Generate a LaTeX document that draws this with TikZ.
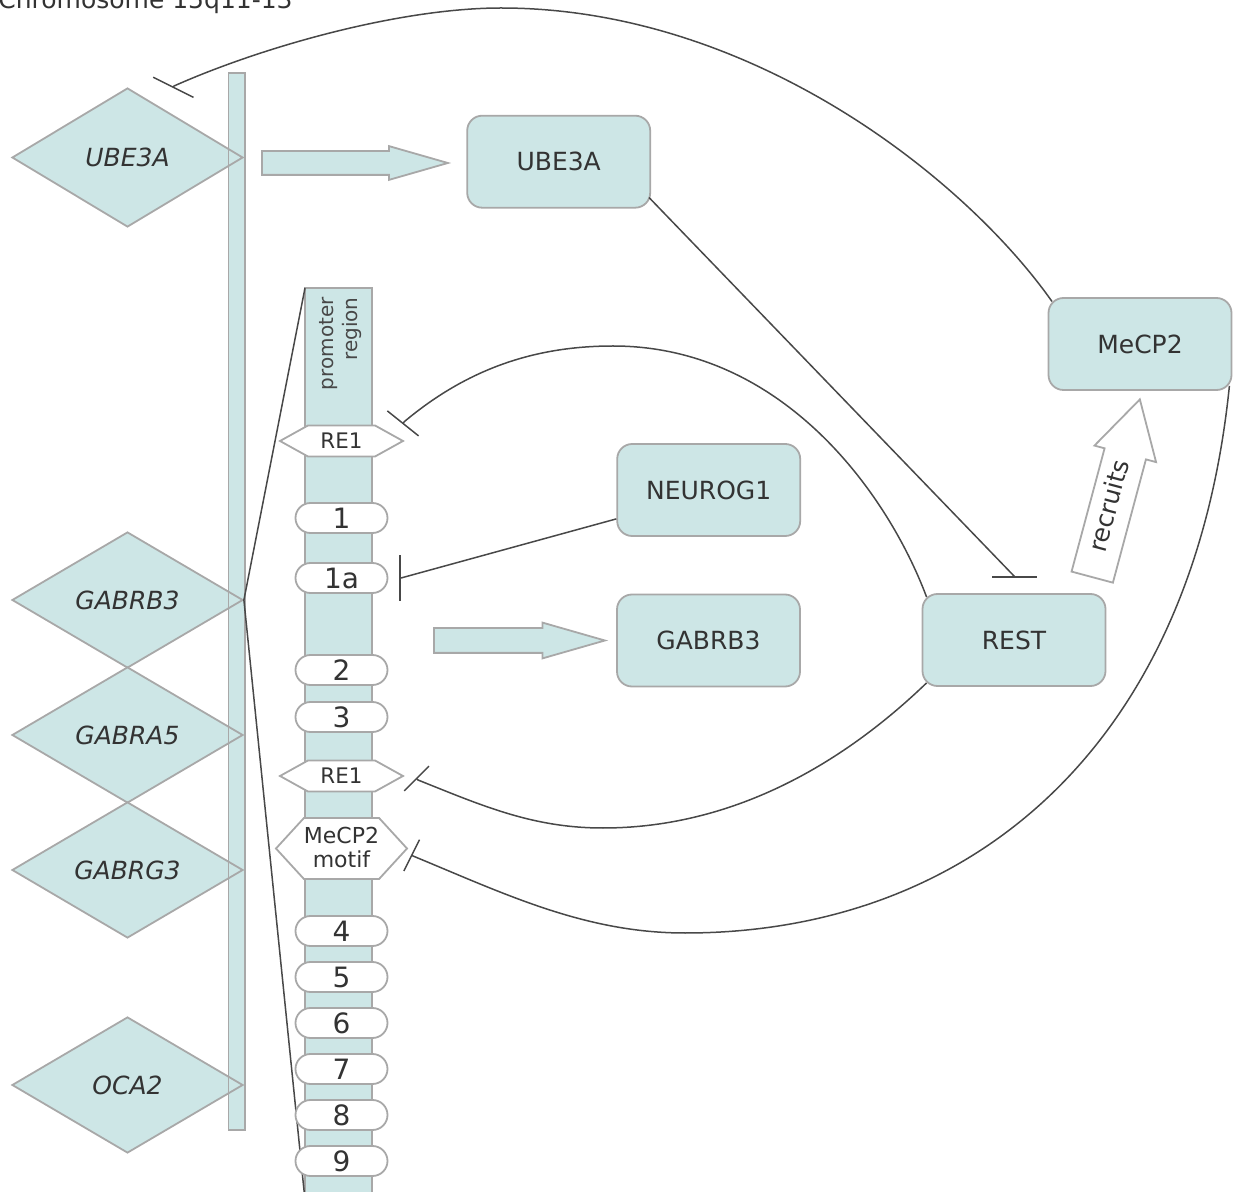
\documentclass[tikz,border=0pt]{standalone}
\usepackage{fontspec}
\setmainfont{DejaVu Sans}
\usepackage{xcolor}
\usepackage{tikz}
\usetikzlibrary{arrows.meta,calc,shapes.geometric,shapes.symbols,shapes.arrows}
\definecolor{ink}{HTML}{333333}
\definecolor{wire}{HTML}{484848}
\definecolor{band}{HTML}{CDE6E6}
\definecolor{rim}{HTML}{A8A8A8}
\newcommand{\boxfont}{\fontsize{12.5}{15}\selectfont}
\newcommand{\genefont}{\itshape\fontsize{12.5}{15}\selectfont}
\newcommand{\exonfont}{\fontsize{14}{16}\selectfont}
\newcommand{\sitefont}{\fontsize{10.7}{11.5}\selectfont}

\tikzset{
  gene/.style={diamond, draw=rim, fill=band, line width=0.9pt, minimum width=115.5pt,
    minimum height=68pt, inner sep=0pt, font=\genefont, text=ink},
  protein/.style={rectangle, rounded corners=7.5pt, draw=rim, fill=band, line width=0.9pt,
    minimum width=91.5pt, minimum height=46pt, font=\boxfont, text=ink},
  exon/.style={rectangle, rounded corners=7.5pt, draw=rim, fill=white, line width=0.9pt,
    minimum width=46pt, minimum height=15pt, inner sep=0pt, font=\exonfont, text=ink},
  site/.style={signal, signal to=east and west, draw=rim, fill=white, line width=0.9pt,
    minimum width=61.5pt, inner sep=0pt, font=\sitefont, text=ink, align=center},
  strand/.style={rectangle, draw=rim, fill=band, line width=0.9pt, inner sep=0pt, outer sep=0pt},
  fatarrow/.style={single arrow, draw=rim, fill=band, line width=0.9pt,
    single arrow tip angle=32, inner xsep=0pt, anchor=tail},
  blocks/.style={draw=wire, line width=0.75pt, -{Bar[width=#1]}},
  blocks/.default=22.5pt,
}

\begin{document}
\begin{tikzpicture}[x=0.5pt, y=-0.5pt]
  \useasboundingbox (0,0) rectangle (1233,1192);

  \node[anchor=base west, font=\boxfont, text=ink, inner sep=0pt] (title) at (-2,9) {Chromosome 15q11-13};

  % chromosome and genes
  \node[strand, minimum width=8.25pt, minimum height=528.5pt] (chrom) at (236.75,601.5) {};
  \node[gene, minimum height=69.5pt] (ube3ag) at (127.5,157.5) {UBE3A};
  \node[gene] (gabrb3g) at (127.5,600) {GABRB3};
  \node[gene] (gabra5g) at (127.5,735) {GABRA5};
  \node[gene] (gabrg3g) at (127.5,870) {GABRG3};
  \node[gene] (oca2g) at (127.5,1085) {OCA2};
  \draw[rim, line width=0.9pt] (chrom.north west) rectangle (chrom.south east);

  % zoom on the GABRB3 promoter
  \node[strand, minimum width=33.5pt, minimum height=456pt] (promoter) at (338.5,744) {};
  \draw[wire, line width=0.75pt] (gabrb3g.east) -- (promoter.north west);
  \draw[wire, line width=0.75pt] (gabrb3g.east) -- (promoter.south west);
  \node[rotate=90, anchor=east, align=right, inner sep=0pt, text=ink!90,
        font=\fontsize{10}{12}\selectfont] (promtext) at (341,297) {promoter\\region};

  \node[site, minimum height=15.5pt, signal pointer angle=58] (re1a) at (341.5,441) {RE1};
  \node[site, minimum height=15.5pt, signal pointer angle=58] (re1b) at (341.5,776) {RE1};
  \node[site, minimum height=30.5pt, signal pointer angle=95, font=\fontsize{11}{11.5}\selectfont]
    (motif) at (341.5,848.5) {\raisebox{-4pt}[0pt][0pt]{\begin{tabular}{@{}c@{}}MeCP2\\motif\end{tabular}}};
  \foreach \lbl/\yy in {1/518, 1a/578, 2/670, 3/717, 4/931, 5/977, 6/1023, 7/1069, 8/1115, 9/1161}
    \node[exon] (ex\lbl) at (341.5,\yy) {\lbl};

  % proteins
  \node[protein] (ube3a) at (558.7,161.7) {UBE3A};
  \node[protein] (mecp2) at (1140,344) {MeCP2};
  \node[protein] (neurog1) at (708.7,490) {NEUROG1};
  \node[protein] (gabrb3) at (708.5,640.5) {GABRB3};
  \node[protein] (rest) at (1014,640) {REST};

  % expression and recruitment
  \node[fatarrow, minimum height=93pt, inner ysep=5.5pt, single arrow head extend=2.5pt] (expr1) at (261,163) {};
  \node[fatarrow, minimum height=85.5pt, inner ysep=5.75pt, single arrow head extend=2.75pt] (expr2) at (433,640.5) {};
  \node[fatarrow, fill=white, rotate=75, minimum height=92pt, inner ysep=4.5pt,
        single arrow head extend=5.25pt, single arrow tip angle=59,
        text height=9pt, text depth=2.5pt, font=\boxfont, text=ink] (recruits) at (1092,578) {recruits};

  % repression
  \coordinate (t-ube) at (173,88);
  \coordinate (t-rest) at (1014,578);
  \coordinate (t-re1a) at (402.5,424);
  \coordinate (t-ex1a) at (399,578);
  \coordinate (t-re1b) at (416,778);
  \coordinate (t-motif) at (411,855);

  \draw[blocks] ($(mecp2.north west)+(4.4,4.4)$) .. controls (965,178) and (751,8) .. (501,8)
    .. controls (401,8) and (264,46) .. ($(t-ube)+(1,-2)$) -- (t-ube);
  \draw[blocks] ($(ube3a.south east)+(-2,-11)$) -- ($(t-rest)+(0,-2)$) -- (t-rest);
  \draw[blocks=20pt] ($(rest.north west)+(5,4)$) .. controls (888,494) and (783,346) .. (613,346)
    .. controls (533,346) and (466,370) .. ($(t-re1a)+(2,-2.5)$) -- (t-re1a);
  \draw[blocks=23pt] ($(neurog1.south west)+(0,-18)$) -- ($(t-ex1a)+(2,0)$) -- (t-ex1a);
  \draw[blocks=17.5pt] ($(rest.south west)+(5,-4)$) .. controls (833,773) and (723,828) .. (603,828)
    .. controls (533,828) and (483,806) .. ($(t-re1b)+(2,2)$) -- (t-re1b);
  \draw[blocks=17.5pt] ($(mecp2.south east)+(-3,-5)$) .. controls (1192,753) and (965,933) .. (685,933)
    .. controls (585,933) and (505,894) .. ($(t-motif)+(2,1)$) -- (t-motif);
\end{tikzpicture}
\end{document}
